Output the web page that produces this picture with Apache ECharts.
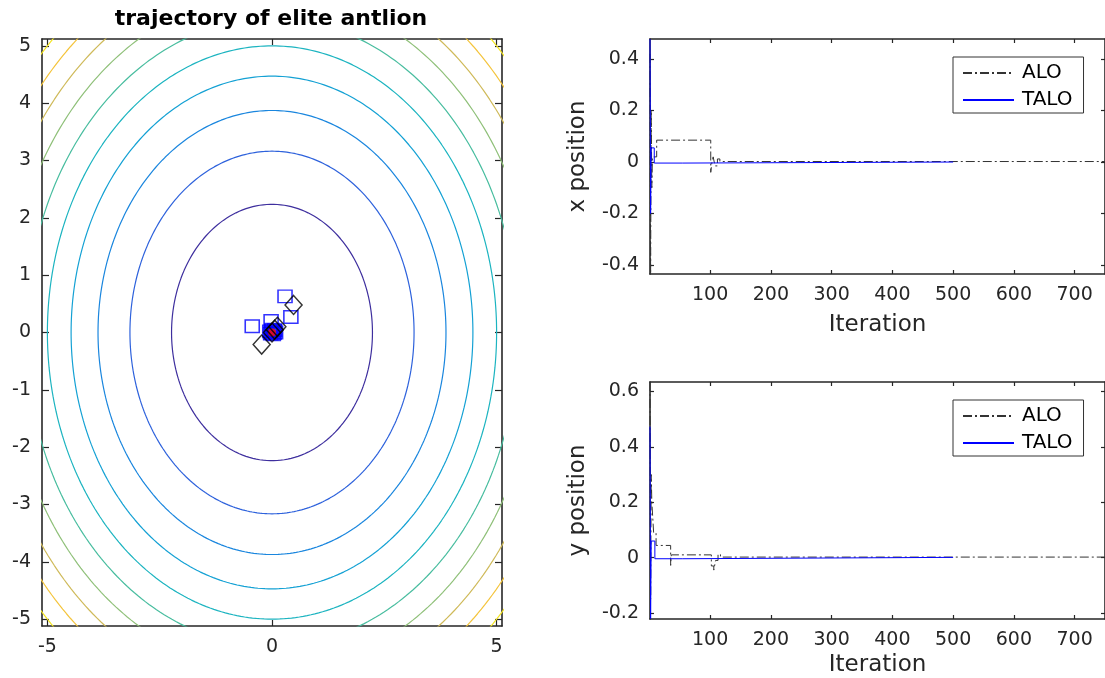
<!DOCTYPE html>
<html><head><meta charset="utf-8">
<script src="https://cdn.jsdelivr.net/npm/echarts@6/dist/echarts.min.js"></script>
<style>html,body{margin:0;padding:0;background:#fff}#c{width:1105px;height:678px}</style>
</head><body><div id="c"></div>
<script>
// ---- left panel: contour of f(x,y)=x^2+y^2 and elite trajectories ----
const contourLevels = [5, 10, 15, 20, 25, 30, 35, 40, 45, 50];
const contourColors = ['#3e2f9e', '#2e62dc', '#1a86de', '#14a1d4', '#1cb4c0', '#48bd9f', '#8fc079', '#cfba5a', '#f4c43c', '#f4e523'];
const trajXTicks = [-5, 0, 5];
const trajYTicks = [-5, -4, -3, -2, -1, 0, 1, 2, 3, 4, 5];
const taloPath = [[0.29, 0.63], [-0.44, 0.11], [-0.02, 0.2], [0.42, 0.27], [0.06, 0.04], [-0.05, 0.02], [0.03, -0.03], [0.08, 0.0], [-0.03, -0.02], [0.0, 0.05]];
const taloBest = [[0.02, 0.01]];
const aloPath = [[0.48, 0.48], [-0.23, -0.21], [0.12, 0.1], [0.06, 0.05], [0.0, 0.0]];
const bestPoint = [[0.0, 0.0]];

// ---- right panels: position vs iteration ----
const iterTicks = [100, 200, 300, 400, 500, 600, 700];
const xPosTicks = [-0.4, -0.2, 0, 0.2, 0.4];
const yPosTicks = [-0.2, 0, 0.2, 0.4, 0.6];
const aloX = [[1, 0.42], [2, -0.435], [3, 0.2], [4, -0.1], [5, 0.02], [12, 0.085], [101, -0.04], [103, 0.0], [105, 0.02], [108, -0.015], [112, 0.012], [116, 0.002], [750, 0.002]];
const taloX = [[1, 0.478], [2, -0.2], [3, 0.055], [8, -0.004], [55, 0.0], [500, 0.0]];
const aloY = [[1, 0.634], [2, -0.15], [3, 0.3], [4, 0.2], [7, 0.09], [11, 0.044], [35, -0.028], [36, 0.01], [102, -0.03], [106, -0.045], [109, -0.01], [113, 0.012], [117, 0.002], [750, 0.002]];
const taloY = [[1, 0.473], [2, -0.22], [3, 0.06], [9, -0.004], [55, 0.001], [500, 0.001]];

const FONT = 'DejaVu Sans';
const AX = '#262626';
const lineSt = { color: AX, width: 1.6 };

function xAx(grid, pos, min, max, ticks, tickLen, showLabel, extra) {
  return Object.assign({
    gridIndex: grid, type: 'value', position: pos, min: min, max: max,
    axisLine: { show: true, onZero: false, lineStyle: lineSt },
    axisTick: { show: true, inside: true, length: tickLen, customValues: ticks, lineStyle: { color: AX, width: 1.2 } },
    axisLabel: { show: showLabel, customValues: ticks, margin: 12, fontSize: 19, color: AX, fontFamily: FONT },
    splitLine: { show: false }
  }, extra || {});
}
function yAx(grid, pos, min, max, ticks, tickLen, showLabel, extra) {
  return Object.assign({
    gridIndex: grid, type: 'value', position: pos, min: min, max: max,
    axisLine: { show: true, onZero: false, lineStyle: lineSt },
    axisTick: { show: true, inside: true, length: tickLen, customValues: ticks, lineStyle: { color: AX, width: 1.2 } },
    axisLabel: { show: showLabel, customValues: ticks, margin: 11, fontSize: 19, color: AX, fontFamily: FONT },
    splitLine: { show: false }
  }, extra || {});
}

const contourSeries = contourLevels.map(function (lv, i) {
  const r = Math.sqrt(lv);
  const pts = [];
  for (let a = 0; a <= 360; a += 1) {
    const t = a * Math.PI / 180;
    pts.push([r * Math.cos(t), r * Math.sin(t)]);
  }
  return { type: 'line', xAxisIndex: 0, yAxisIndex: 0, data: pts, symbol: 'none', silent: true,
    clip: true, lineStyle: { color: contourColors[i], width: 1.2 } };
});

const nameStyle = { fontSize: 23, color: AX, fontFamily: FONT };
const legendBase = {
  orient: 'vertical', left: 953, data: ['ALO', 'TALO'], selectedMode: false,
  itemWidth: 51, itemHeight: 14, itemGap: 7, padding: [6, 11, 3, 9],
  borderColor: '#333', borderWidth: 1, backgroundColor: '#fff',
  itemStyle: { color: 'rgba(0,0,0,0)', borderWidth: 0 },
  textStyle: { fontSize: 20, color: '#000', fontFamily: FONT, lineHeight: 20, padding: [0, 0, 0, 3] }
};
const noSym = { color: 'rgba(0,0,0,0)', borderWidth: 0 };

const option = {
  animation: false,
  textStyle: { fontFamily: FONT },
  grid: [
    { left: 42, top: 39, width: 460, height: 587 },
    { left: 650, top: 39, width: 456, height: 235 },
    { left: 650, top: 382, width: 456, height: 239 }
  ],
  xAxis: [
    xAx(0, 'bottom', -5.12, 5.12, trajXTicks, 6, true),
    xAx(0, 'top', -5.12, 5.12, trajXTicks, 6, false),
    xAx(1, 'bottom', 1, 750, iterTicks, 4, true, { name: 'Iteration', nameLocation: 'middle', nameGap: 40, nameTextStyle: nameStyle }),
    xAx(1, 'top', 1, 750, iterTicks, 4, false),
    xAx(2, 'bottom', 1, 750, iterTicks, 4, true, { name: 'Iteration', nameLocation: 'middle', nameGap: 35, nameTextStyle: nameStyle }),
    xAx(2, 'top', 1, 750, iterTicks, 4, false)
  ],
  yAxis: [
    yAx(0, 'left', -5.12, 5.12, trajYTicks, 7, true),
    yAx(0, 'right', -5.12, 5.12, trajYTicks, 7, false),
    yAx(1, 'left', -0.435, 0.478, xPosTicks, 4, true, { name: 'x position', nameLocation: 'middle', nameGap: 60, nameTextStyle: nameStyle }),
    yAx(1, 'right', -0.435, 0.478, xPosTicks, 4, false),
    yAx(2, 'left', -0.2215, 0.634, yPosTicks, 4, true, { name: 'y position', nameLocation: 'middle', nameGap: 60, nameTextStyle: nameStyle }),
    yAx(2, 'right', -0.2215, 0.634, yPosTicks, 4, false)
  ],
  legend: [
    Object.assign({}, legendBase, { top: 57 }),
    Object.assign({}, legendBase, { top: 400 })
  ],
  graphic: [{
    type: 'text', x: 271, y: 19, silent: true,
    style: { text: 'trajectory of elite antlion', font: 'bold 22px "DejaVu Sans"', fill: '#000', align: 'center', verticalAlign: 'middle' }
  }],
  series: contourSeries.concat([
    { type: 'scatter', xAxisIndex: 0, yAxisIndex: 0, data: taloPath, symbol: 'rect', symbolSize: [14, 12.5], silent: true,
      itemStyle: { color: 'rgba(0,0,0,0)', borderColor: '#0000ff', borderWidth: 1.5 } },
    { type: 'scatter', xAxisIndex: 0, yAxisIndex: 0, data: taloBest, symbol: 'rect', symbolSize: [18, 16], silent: true,
      itemStyle: { color: '#0000ff' } },
    { type: 'scatter', xAxisIndex: 0, yAxisIndex: 0, data: bestPoint, symbol: 'circle', symbolSize: 8, silent: true,
      itemStyle: { color: '#ff0000' } },
    { type: 'scatter', xAxisIndex: 0, yAxisIndex: 0, data: aloPath, symbol: 'diamond', symbolSize: [17, 19], silent: true,
      itemStyle: { color: 'rgba(0,0,0,0)', borderColor: '#000', borderWidth: 1.5 } },
    { name: 'ALO', type: 'line', xAxisIndex: 2, yAxisIndex: 2, data: aloX, step: 'end', symbol: 'none', showSymbol: false,
      itemStyle: noSym, lineStyle: { color: '#333', width: 1, type: [9, 3, 2, 3] } },
    { name: 'TALO', type: 'line', xAxisIndex: 2, yAxisIndex: 2, data: taloX, step: 'end', symbol: 'none', showSymbol: false,
      itemStyle: noSym, lineStyle: { color: '#0000ff', width: 1 } },
    { name: 'ALO', type: 'line', xAxisIndex: 4, yAxisIndex: 4, data: aloY, step: 'end', symbol: 'none', showSymbol: false,
      itemStyle: noSym, lineStyle: { color: '#333', width: 1, type: [9, 3, 2, 3] } },
    { name: 'TALO', type: 'line', xAxisIndex: 4, yAxisIndex: 4, data: taloY, step: 'end', symbol: 'none', showSymbol: false,
      itemStyle: noSym, lineStyle: { color: '#0000ff', width: 1 } }
  ])
};
const chart = echarts.init(document.getElementById('c'), null, { renderer: 'canvas' });
chart.setOption(option);
</script></body></html>
